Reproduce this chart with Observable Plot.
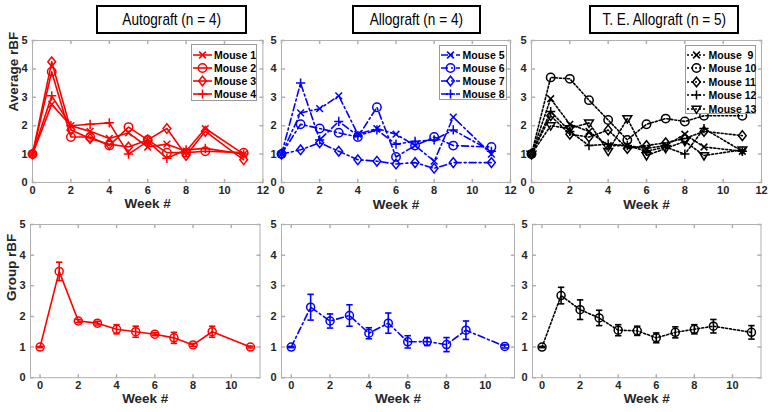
<!DOCTYPE html>
<html><head><meta charset="utf-8">
<script src="https://cdn.jsdelivr.net/npm/d3@7"></script>
<script src="https://cdn.jsdelivr.net/npm/@observablehq/plot@0.6"></script>
<style>
body{margin:0;background:#fff;}
#root{position:relative;width:773px;height:412px;overflow:hidden;font-family:"Liberation Sans",Arial,sans-serif;background:#fff;}
.panel{position:absolute;}
.panel svg{overflow:visible;background:transparent;max-width:none;}
.title{position:absolute;border:2px solid #000;box-sizing:border-box;display:flex;align-items:center;justify-content:center;font-family:"Liberation Sans",Arial,sans-serif;font-size:17px;color:#000;background:#fff;white-space:pre;}
.title span{display:inline-block;transform:scaleX(0.8);transform-origin:center;}
.legend{position:absolute;border:1px solid #9a9a9a;background:#fff;box-sizing:border-box;}
.legend .row{position:absolute;left:0;height:14px;}
.legend .row svg{position:absolute;left:0;top:0;overflow:visible;}
.legend .row span{position:absolute;top:0;line-height:14px;font-size:10.5px;font-weight:bold;color:#000;white-space:pre;}
</style></head>
<body><div id="root"></div>
<script>
// ---------- data ----------
const weeks = [0, 1, 2, 3, 4, 5, 6, 7, 8, 9, 11];
const xTicksTop = [0, 2, 4, 6, 8, 10, 12];
const xTicksBottom = [0, 2, 4, 6, 8, 10];
const yTicks = [0, 1, 2, 3, 4, 5];
const titles = ["Autograft (n = 4)", "Allograft (n = 4)", "T. E. Allograft (n = 5)"];

const autoNames = ["Mouse 1", "Mouse 2", "Mouse 3", "Mouse 4"];
const mouse1 = [1, 2.75, 2.0, 1.8, 1.55, 1.75, 1.25, 1.35, 1.1, 1.9, 1.0];
const mouse2 = [1, 3.9, 1.6, 1.6, 1.3, 1.95, 1.5, 1.05, 1.05, 1.1, 1.05];
const mouse3 = [1, 4.25, 1.85, 1.55, 1.35, 1.25, 1.5, 1.9, 0.95, 1.8, 0.8];
const mouse4 = [1, 3.05, 2.0, 2.05, 2.1, 1.0, 1.45, 0.85, 1.15, 1.2, 1.0];

const alloNames = ["Mouse 5", "Mouse 6", "Mouse 7", "Mouse 8"];
const mouse5 = [1, 2.45, 2.6, 3.05, 1.7, 1.9, 1.7, 1.3, 0.75, 2.3, 1.0];
const mouse6 = [1, 2.05, 1.9, 1.75, 1.6, 2.65, 0.9, 1.3, 1.6, 1.3, 1.25];
const mouse7 = [1, 1.15, 1.4, 1.1, 0.8, 0.75, 0.65, 0.7, 0.5, 0.7, 0.7];
const mouse8 = [1, 3.5, 1.5, 2.15, 1.65, 1.85, 1.35, 1.45, 1.5, 1.85, 1.1];

const teNames = ["Mouse  9", "Mouse 10", "Mouse 11", "Mouse 12", "Mouse 13"];
const mouse9  = [1, 2.95, 2.05, 1.8, 1.3, 1.3, 1.2, 1.3, 1.7, 1.25, 1.1];
const mouse10 = [1, 3.7, 3.65, 2.9, 2.2, 1.5, 2.05, 2.25, 2.15, 2.35, 2.35];
const mouse11 = [1, 2.35, 1.7, 1.6, 1.85, 1.2, 1.3, 1.4, 1.55, 1.8, 1.65];
const mouse12 = [1, 2.5, 1.8, 1.3, 1.35, 1.3, 1.1, 1.25, 1.0, 1.9, 1.1];
const mouse13 = [1, 2.0, 1.9, 2.1, 1.1, 2.25, 0.95, 1.2, 1.45, 0.95, 1.15];

const autoMean = [1, 3.47, 1.85, 1.78, 1.58, 1.5, 1.42, 1.3, 1.07, 1.5, 1.0];
const autoErr  = [0.02, 0.3, 0.05, 0.06, 0.15, 0.18, 0.05, 0.18, 0.05, 0.18, 0.03];
const alloMean = [1, 2.3, 1.85, 2.03, 1.45, 1.78, 1.17, 1.18, 1.08, 1.55, 1.02];
const alloErr  = [0.02, 0.42, 0.23, 0.35, 0.18, 0.33, 0.2, 0.13, 0.23, 0.3, 0.05];
const teMean   = [1, 2.68, 2.22, 1.95, 1.55, 1.53, 1.3, 1.48, 1.58, 1.68, 1.48];
const teErr    = [0.02, 0.27, 0.32, 0.25, 0.18, 0.15, 0.16, 0.18, 0.15, 0.22, 0.22];

// ---------- symbols ----------
const rad = s => Math.sqrt(s / Math.PI);
const symTimes = {draw(c, s) { const r = rad(s) * 0.8; c.moveTo(-r, -r); c.lineTo(r, r); c.moveTo(-r, r); c.lineTo(r, -r); }};
const symPlus = {draw(c, s) { const r = rad(s) * 1.1; c.moveTo(-r, 0); c.lineTo(r, 0); c.moveTo(0, -r); c.lineTo(0, r); }};
const symCircle = {draw(c, s) { const r = rad(s); c.moveTo(r, 0); c.arc(0, 0, r, 0, 2 * Math.PI); }};
const symDiamond = {draw(c, s) { const r = rad(s) * 1.15; const w = r * 0.8; c.moveTo(0, -r); c.lineTo(w, 0); c.lineTo(0, r); c.lineTo(-w, 0); c.closePath(); }};
const symTriDown = {draw(c, s) { const r = rad(s) * 1.05; c.moveTo(-r, -r * 0.65); c.lineTo(r, -r * 0.65); c.lineTo(0, r * 1.0); c.closePath(); }};
const symCap = {draw(c, s) { const r = rad(s); c.moveTo(-r, 0); c.lineTo(r, 0); }};
const tickShape = {draw(c, l) { c.moveTo(0, 0); c.lineTo(0, -l); }};

const groups = [
  {names: autoNames, series: [mouse1, mouse2, mouse3, mouse4], syms: [symTimes, symCircle, symDiamond, symPlus],
   color: "#ff0000", dash: null, mean: autoMean, err: autoErr},
  {names: alloNames, series: [mouse5, mouse6, mouse7, mouse8], syms: [symTimes, symCircle, symDiamond, symPlus],
   color: "#0000ff", dash: "7,3,2,3", mean: alloMean, err: alloErr},
  {names: teNames, series: [mouse9, mouse10, mouse11, mouse12, mouse13], syms: [symTimes, symCircle, symDiamond, symPlus, symTriDown],
   color: "#000000", dash: "2,2", mean: teMean, err: teErr}
];

// ---------- layout ----------
const topFrames = [[32.3, 262.7], [281, 510], [531, 761]];
const topY = [40, 182];
const botFrames = [[30, 259.5], [281, 514], [531.5, 760]];
const botY = [224.3, 377.5];
const titleBoxes = [[96, 151], [352, 129], [589, 150]];
const legendBoxes = [
  {left: 191, top: 44, w: 66, h: 57, rows: [10, 23, 36, 49], tx: 22},
  {left: 439, top: 45, w: 68, h: 55, rows: [8.5, 21.7, 35, 48.2], tx: 22.5},
  {left: 685, top: 45, w: 71, h: 69, rows: [9, 22.3, 36, 49.2, 63], tx: 22.5}
];

const root = document.getElementById("root");
const grid = "#b0b0b0", txt = "#262626";
const ML = 42, MR = 12, MT = 10, MB = 36;

function framed(xTicks) {
  return [
    Plot.frame({stroke: grid, strokeWidth: 1}),
    Plot.vector(xTicks, {x: d => d, frameAnchor: "bottom", length: 3, rotate: 0, anchor: "start", shape: tickShape, stroke: grid}),
    Plot.vector(xTicks, {x: d => d, frameAnchor: "top", length: 3, rotate: 180, anchor: "start", shape: tickShape, stroke: grid}),
    Plot.vector(yTicks, {y: d => d, frameAnchor: "left", length: 3, rotate: 90, anchor: "start", shape: tickShape, stroke: grid}),
    Plot.vector(yTicks, {y: d => d, frameAnchor: "right", length: 3, rotate: -90, anchor: "start", shape: tickShape, stroke: grid})
  ];
}

function place(el, left, top) {
  const d = document.createElement("div");
  d.className = "panel";
  d.style.left = left + "px"; d.style.top = top + "px";
  d.appendChild(el);
  root.appendChild(d);
}

function makePanel({fx, fy, xdom, xTicks, tickPad, labDy, ylabel, marks}) {
  const fw = fx[1] - fx[0], fh = fy[1] - fy[0];
  const svg = Plot.plot({
    width: fw + ML + MR, height: fh + MT + MB,
    marginLeft: ML, marginRight: MR, marginTop: MT, marginBottom: MB,
    x: {domain: xdom}, y: {domain: [0, 5]},
    style: {background: "transparent", overflow: "visible", fontFamily: "Liberation Sans, Arial, sans-serif", fontSize: "11px", fontWeight: "bold", color: txt},
    marks: [
      ...framed(xTicks),
      Plot.axisX(xTicks, {tickSize: 0, tickPadding: tickPad, label: null}),
      Plot.axisY(yTicks, {tickSize: 0, tickPadding: 5, label: null}),
      Plot.text(["Week #"], {frameAnchor: "bottom", dy: labDy, fontSize: 13.5, fontWeight: "bold", fill: txt}),
      ...(ylabel ? [Plot.text([ylabel], {frameAnchor: "left", dx: -19, rotate: -90, fontSize: 13.5, fontWeight: "bold", fill: txt})] : []),
      ...marks
    ]
  });
  place(svg, fx[0] - ML, fy[0] - MT);
}

groups.forEach((g, gi) => {
  // top panel: individual mice
  const rows = [];
  g.series.forEach((s, si) => s.forEach((v, i) => rows.push({mouse: g.names[si], week: weeks[i], v})));
  const marks = [
    Plot.line(rows, {x: "week", y: "v", z: "mouse", stroke: g.color, strokeWidth: 1.6, strokeDasharray: g.dash})
  ];
  g.names.forEach((n, si) => {
    marks.push(Plot.dot(rows.filter(d => d.mouse === n), {x: "week", y: "v", symbol: g.syms[si], r: 4.2, stroke: g.color, fill: "none", strokeWidth: 1.5}));
  });
  makePanel({fx: topFrames[gi], fy: topY, xdom: [0, 12], xTicks: xTicksTop, tickPad: 4, labDy: 26,
             ylabel: gi === 0 ? "Average rBF" : null, marks});

  // bottom panel: group mean ± error
  const mrows = weeks.map((w, i) => ({week: w, m: g.mean[i], lo: g.mean[i] - g.err[i], hi: g.mean[i] + g.err[i]}));
  const bmarks = [
    Plot.line(mrows, {x: "week", y: "m", stroke: g.color, strokeWidth: 1.6, strokeDasharray: g.dash}),
    Plot.ruleX(mrows, {x: "week", y1: "lo", y2: "hi", stroke: g.color, strokeWidth: 1.6}),
    Plot.dot(mrows, {x: "week", y: "lo", symbol: symCap, r: 3.2, stroke: g.color, strokeWidth: 1.6}),
    Plot.dot(mrows, {x: "week", y: "hi", symbol: symCap, r: 3.2, stroke: g.color, strokeWidth: 1.6}),
    Plot.dot(mrows, {x: "week", y: "m", symbol: symCircle, r: 4, stroke: g.color, fill: "none", strokeWidth: 1.5})
  ];
  makePanel({fx: botFrames[gi], fy: botY, xdom: [-0.5, 11.5], xTicks: xTicksBottom, tickPad: 3, labDy: 25,
             ylabel: gi === 0 ? "Group rBF" : null, marks: bmarks});

  // title box
  const t = document.createElement("div");
  t.className = "title";
  const ts = document.createElement("span");
  ts.textContent = titles[gi];
  t.appendChild(ts);
  t.style.left = titleBoxes[gi][0] + "px"; t.style.top = "5px";
  t.style.width = titleBoxes[gi][1] + "px"; t.style.height = "29px";
  root.appendChild(t);

  // legend
  const L = legendBoxes[gi];
  const lg = document.createElement("div");
  lg.className = "legend";
  lg.style.left = L.left + "px"; lg.style.top = L.top + "px";
  lg.style.width = L.w + "px"; lg.style.height = L.h + "px";
  g.names.forEach((n, si) => {
    const row = document.createElement("div");
    row.className = "row";
    row.style.top = (L.rows[si] - 7) + "px";
    const s = d3.create("svg").attr("width", 22).attr("height", 14);
    s.append("line").attr("x1", 1).attr("x2", 20).attr("y1", 7).attr("y2", 7)
      .attr("stroke", g.color).attr("stroke-width", 1.6).attr("stroke-dasharray", g.dash);
    s.append("path").attr("d", d3.symbol(g.syms[si], Math.PI * 4.2 * 4.2)())
      .attr("transform", "translate(10.5,7)").attr("fill", "none").attr("stroke", g.color).attr("stroke-width", 1.5);
    row.appendChild(s.node());
    const sp = document.createElement("span");
    sp.textContent = n;
    sp.style.left = L.tx + "px";
    row.appendChild(sp);
    lg.appendChild(row);
  });
  root.appendChild(lg);
});
</script></body></html>
